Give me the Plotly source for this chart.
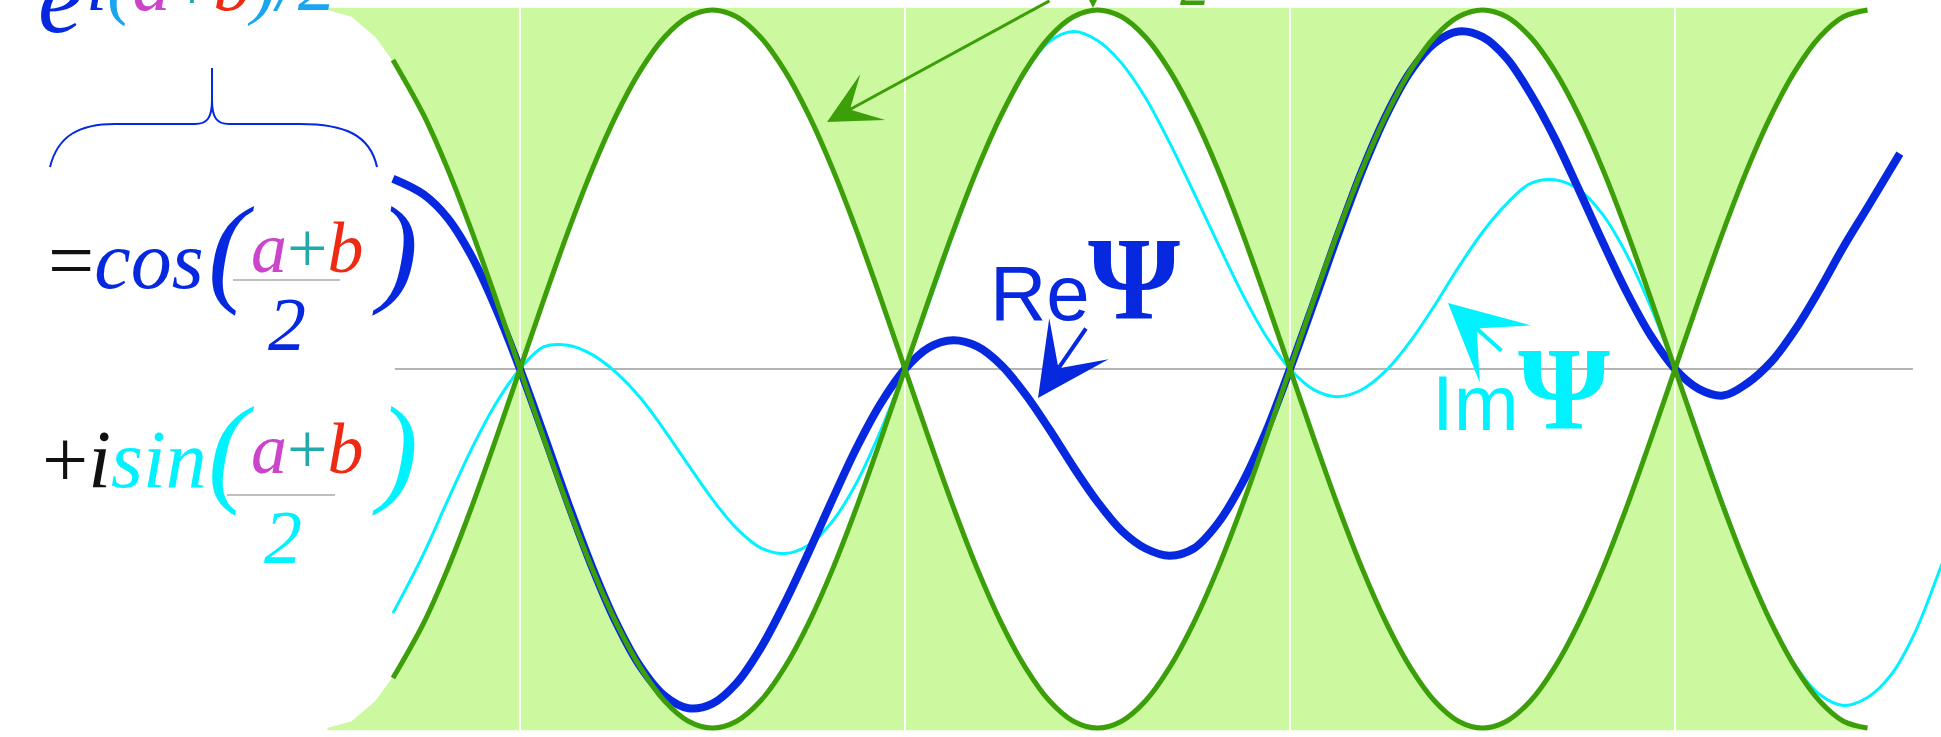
import plotly.graph_objects as go

W, H = 1941, 737

# x is measured in node spacings of the beat (nodes at 1, 2, 3, 4); y in units of the peak envelope
ENV_X = [0.5, 0.5625, 0.625, 0.6875, 0.75, 0.8125, 0.875, 0.9375, 1.0, 1.0625, 1.125, 1.1875,
         1.25, 1.3125, 1.375, 1.4375, 1.5, 1.5625, 1.625, 1.6875, 1.75, 1.8125, 1.875, 1.9375,
         2.0, 2.0625, 2.125, 2.1875, 2.25, 2.3125, 2.375, 2.4375, 2.5, 2.5625, 2.625, 2.6875,
         2.75, 2.8125, 2.875, 2.9375, 3.0, 3.0625, 3.125, 3.1875, 3.25, 3.3125, 3.375, 3.4375,
         3.5, 3.5625, 3.625, 3.6875, 3.75, 3.8125, 3.875, 3.9375, 4.0, 4.0625, 4.125, 4.1875,
         4.25, 4.3125, 4.375, 4.4375, 4.5]
ENV_Y = [1.0, 0.981, 0.924, 0.831, 0.707, 0.556, 0.383, 0.195, 0.0, -0.195, -0.383, -0.556,
         -0.707, -0.831, -0.924, -0.981, -1.0, -0.981, -0.924, -0.831, -0.707, -0.556, -0.383, -0.195,
         0.0, 0.195, 0.383, 0.556, 0.707, 0.831, 0.924, 0.981, 1.0, 0.981, 0.924, 0.831,
         0.707, 0.556, 0.383, 0.195, 0.0, -0.195, -0.383, -0.556, -0.707, -0.831, -0.924, -0.981,
         -1.0, -0.981, -0.924, -0.831, -0.707, -0.556, -0.383, -0.195, 0.0, 0.195, 0.383, 0.556,
         0.707, 0.831, 0.924, 0.981, 1.0]
ENV_LINE_START = (0.67, 0.861)

WAVE_X = [0.67] + ENV_X[4:]
RE_X = WAVE_X + [4.584]
RE_Y = [0.53, 0.486, 0.420, 0.313, 0.169, 0.0, -0.185, -0.374, -0.552, -0.707, -0.829, -0.910,
        -0.945, -0.932, -0.875, -0.778, -0.652, -0.510, -0.361, -0.218, -0.095, 0.0, 0.060, 0.080,
        0.063, 0.011, -0.070, -0.168, -0.273, -0.370, -0.450, -0.500, -0.520, -0.500, -0.430, -0.320,
        -0.175, 0.0, 0.186, 0.375, 0.553, 0.707, 0.828, 0.907, 0.940, 0.925, 0.866, 0.766,
        0.643, 0.500, 0.353, 0.213, 0.092, 0.0, -0.056, -0.074, -0.040, 0.020, 0.110, 0.220,
        0.340, 0.450, 0.600]
IM_X = WAVE_X + [4.5625, 4.625, 4.6875, 4.75]
IM_Y = [-0.68, -0.514, -0.365, -0.221, -0.096, 0.0, 0.062, 0.066, 0.040, -0.010, -0.080, -0.170,
        -0.268, -0.363, -0.444, -0.498, -0.514, -0.490, -0.423, -0.315, -0.170, 0.0, 0.186, 0.375,
        0.553, 0.707, 0.828, 0.912, 0.940, 0.915, 0.852, 0.755, 0.630, 0.492, 0.350, 0.212,
        0.092, 0.0, -0.058, -0.077, -0.057, -0.004, 0.077, 0.176, 0.283, 0.381, 0.460, 0.517,
        0.527, 0.500, 0.430, 0.318, 0.172, 0.0, -0.187, -0.376, -0.553, -0.707, -0.827, -0.906,
        -0.937, -0.915, -0.850, -0.730, -0.560, -0.380]
NODES = [1, 2, 3, 4]
AXIS_X = [0.675, 4.618]

BLUE = "#0629e0"
CYAN = "#00f2ff"
GREEN = "#3c9f0a"
FILL = "#ccf9a0"
MAGENTA = "#cc44cc"
RED = "#ee2a12"
TEAL = "#22aaaa"
SKY = "#1aa6ee"
GRAY = "#b4b4b4"
BLACK = "#111111"
SERIF = "Liberation Serif"
SANS = "Liberation Sans"

fig = go.Figure()

# green band outside the envelope: one region above +|Ψ|, one below -|Ψ|
band_top = 1.006
for sign in (1, -1):
    bx = [ENV_X[-1], ENV_X[0]] + ENV_X
    by = [sign * band_top, sign * band_top] + [sign * abs(v) for v in ENV_Y]
    fig.add_trace(go.Scatter(x=bx, y=by, mode="lines", line=dict(width=0), fill="toself",
                             fillcolor=FILL, hoverinfo="skip", showlegend=False))

# thin white rules at the nodes
for n in NODES:
    fig.add_trace(go.Scatter(x=[n, n], y=[-band_top, band_top], mode="lines",
                             line=dict(color="white", width=2), hoverinfo="skip", showlegend=False))

# horizontal axis line
fig.add_trace(go.Scatter(x=AXIS_X, y=[0, 0], mode="lines", line=dict(color=GRAY, width=2),
                         hoverinfo="skip", showlegend=False))

# Im Ψ and Re Ψ
fig.add_trace(go.Scatter(x=IM_X, y=IM_Y, mode="lines", line=dict(color=CYAN, width=3, shape="spline"),
                         hoverinfo="skip", showlegend=False))
fig.add_trace(go.Scatter(x=RE_X, y=RE_Y, mode="lines", line=dict(color=BLUE, width=8, shape="spline"),
                         hoverinfo="skip", showlegend=False))

# envelope curves ±|Ψ|
gx = [ENV_LINE_START[0]] + ENV_X[4:]
gy = [ENV_LINE_START[1]] + ENV_Y[4:]
for sign in (1, -1):
    fig.add_trace(go.Scatter(x=gx, y=[sign * v for v in gy], mode="lines",
                             line=dict(color=GREEN, width=5, shape="spline"),
                             hoverinfo="skip", showlegend=False))


def px(x):
    return x / W


def py(y):
    return 1 - y / H


def label(text, x, base, size, color, family=SERIF, xanchor="left"):
    fig.add_annotation(x=px(x), y=py(base - 0.34 * size), xref="paper", yref="paper",
                       text=text, showarrow=False, xanchor=xanchor, yanchor="middle",
                       font=dict(family=family, size=size, color=color))


def arrow(tip, tail, color, width, size):
    fig.add_annotation(x=px(tip[0]), y=py(tip[1]), xref="paper", yref="paper",
                       ax=tail[0] - tip[0], ay=tail[1] - tip[1], axref="pixel", ayref="pixel",
                       text="", showarrow=True, arrowhead=3, arrowsize=size,
                       arrowwidth=width, arrowcolor=color)


def bar(x0, x1, y):
    fig.add_shape(type="line", xref="paper", yref="paper", x0=px(x0), x1=px(x1), y0=py(y), y1=py(y),
                  line=dict(color="#aaaaaa", width=1.5))


def c(txt, col):
    return f"<span style='color:{col}'>{txt}</span>"


numer = "<i>" + c("a", MAGENTA) + "</i>" + c("+", TEAL) + "<i>" + c("b", RED) + "</i>"

# e^{i(a+b)/2}
label("<i>e</i>", 36, 33, 100, BLUE)
label("<i>" + c("i", BLUE) + c("(", SKY) + c("a", MAGENTA) + "</i>" + c("+", TEAL) + "<i>"
      + c("b", RED) + c(")/2", SKY) + "</i>", 84, 10, 76, SKY)

# brace
pts = [(50, 167), (58, 135), (80, 124), (115, 124), (195, 124), (207, 124), (212, 118), (212, 100),
       (212, 68), (212, 100), (212, 118), (217, 124), (229, 124), (300, 124), (345, 124), (370, 135),
       (377, 167)]
P = [f"{px(a):.5f},{py(b):.5f}" for a, b in pts]
brace = (f"M{P[0]} C{P[1]} {P[2]} {P[3]} L{P[4]} C{P[5]} {P[6]} {P[7]} L{P[8]} "
         f"M{P[9]} C{P[10]} {P[11]} {P[12]} L{P[13]} C{P[14]} {P[15]} {P[16]}")
fig.add_shape(type="path", xref="paper", yref="paper", path=brace, line=dict(color=BLUE, width=2))

# = cos((a+b)/2)
label(c("=", BLACK) + "<i>cos</i>", 46, 288, 82, BLUE)
label("<i>(</i>", 206, 290, 120, BLUE)
label(numer, 307, 272, 72, BLUE, xanchor="center")
bar(233, 340, 280)
label("<i>2</i>", 287, 350, 76, BLUE, xanchor="center")
label("<i>)</i>", 370, 290, 120, BLUE)

# + i sin((a+b)/2)
label(c("+", BLACK) + "<i>" + c("i", BLACK) + "sin</i>", 40, 487, 82, CYAN)
label("<i>(</i>", 206, 490, 120, CYAN)
label(numer, 307, 473, 72, CYAN, xanchor="center")
bar(227, 335, 495)
label("<i>2</i>", 283, 563, 76, CYAN, xanchor="center")
label("<i>)</i>", 370, 490, 120, CYAN)

# curve labels
label("Re", 988, 320, 78, BLUE, family=SANS)
label("<b>Ψ</b>", 1086, 320, 118, BLUE)
arrow((1038, 398), (1087, 327), BLUE, 4, 3)
label("Im", 1430, 430, 78, CYAN, family=SANS)
label("<b>Ψ</b>", 1516, 430, 118, CYAN)
arrow((1448, 303), (1503, 352), CYAN, 4, 3.2)

# envelope pointers running in from above
arrow((827, 122), (1051, -30), GREEN, 3, 2.9)
arrow((1093, 8), (1093, -30), GREEN, 2.5, 1.6)
label("<i>2</i>", 1195, 5, 60, GREEN, xanchor="center")

fig.update_layout(
    width=W, height=H, margin=dict(l=0, r=0, t=0, b=0),
    paper_bgcolor="white", plot_bgcolor="white", showlegend=False,
    xaxis=dict(range=[-0.3506, 4.6909], showticklabels=False, ticks="", showgrid=False,
               zeroline=False, showline=False, fixedrange=True),
    yaxis=dict(range=[-1.02507, 1.02786], showticklabels=False, ticks="", showgrid=False,
               zeroline=False, showline=False, fixedrange=True),
)

fig.write_html("out.html")
